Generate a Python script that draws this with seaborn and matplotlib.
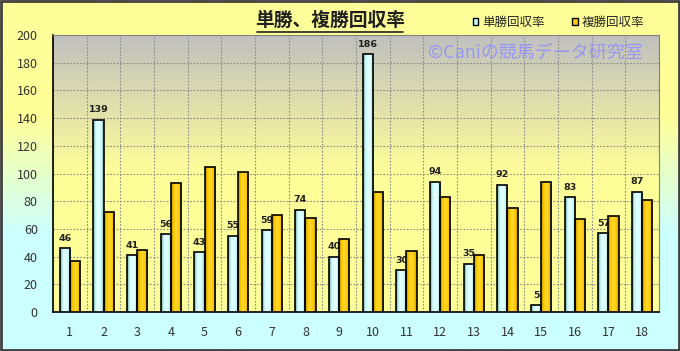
import numpy as np
import pandas as pd
import seaborn as sns
import matplotlib.pyplot as plt
from matplotlib.colors import LinearSegmentedColormap
from matplotlib.lines import Line2D
from matplotlib.patches import Rectangle

sns.set_style("white")
plt.rcParams["font.family"] = ["Noto Sans CJK JP", "DejaVu Sans"]

# data
umaban = [str(i) for i in range(1, 19)]
tansho = [46, 139, 41, 56, 43, 55, 59, 74, 40, 186, 30, 94, 35, 92, 5, 83, 57, 87]
fukusho = [37, 72, 45, 93, 105, 101, 70, 68, 53, 87, 44, 83, 41, 75, 94, 67, 69, 81]
series = ["単勝回収率", "複勝回収率"]

df = pd.DataFrame({
    "馬番": umaban * 2,
    "回収率": tansho + fukusho,
    "種別": [series[0]] * len(umaban) + [series[1]] * len(umaban),
})

fig = plt.figure(figsize=(6.8, 3.51), dpi=100)

# figure background: yellow at top -> light cyan at bottom
bg = fig.add_axes([0, 0, 1, 1], zorder=-10)
bg_cmap = LinearSegmentedColormap.from_list("bg", ["#ccffff", "#ccffff", "#ffff99", "#ffff99"])
bg.imshow(np.linspace(0, 1, 256).reshape(-1, 1), cmap=bg_cmap, aspect="auto",
          extent=[0, 1, 0, 1], origin="lower")
bg.set_axis_off()
bg.add_patch(Rectangle((0.002, 0.003), 0.996, 0.994, transform=bg.transAxes,
                       fill=False, edgecolor="#404040", linewidth=2))

ax = fig.add_axes([0.078, 0.111, 0.891, 0.789])
ax.patch.set_alpha(0)

# plot area gradient: gray top -> light yellow bottom
pa_cmap = LinearSegmentedColormap.from_list("pa", ["#ffff99", "#ffff99", "#c0c0c0"])
ax.imshow(np.linspace(0, 1, 256).reshape(-1, 1), cmap=pa_cmap, aspect="auto",
          extent=[0, 1, 0, 1], origin="lower", transform=ax.transAxes, zorder=0)

sns.barplot(data=df, x="馬番", y="回収率", hue="種別", order=umaban,
            palette=["#ccffff", "#ffcc00"], width=0.6, edgecolor="black",
            linewidth=1.2, saturation=1, ax=ax, zorder=3)

# shade the bars with a horizontal gradient
grad_c = LinearSegmentedColormap.from_list("c", ["#6a9a9a", "#ccffff", "#e8ffff", "#ccffff", "#7aa8a8"])
grad_y = LinearSegmentedColormap.from_list("y", ["#b08800", "#ffcc00", "#ffd633", "#ffcc00", "#c09000"])
for cont, cm in zip(ax.containers, [grad_c, grad_y]):
    for p in cont:
        x0, y0 = p.get_x(), p.get_y()
        w, h = p.get_width(), p.get_height()
        im = ax.imshow(np.linspace(0, 1, 64).reshape(1, -1), cmap=cm, aspect="auto",
                       extent=[x0, x0 + w, y0, y0 + h], zorder=3.5)
        im.set_clip_path(p)
        p.set_facecolor("none")
        p.set_zorder(4)

ax.bar_label(ax.containers[0], fontsize=6.8, fontweight="bold", padding=4,
             color="#202020", family="DejaVu Sans")

ax.set_xlim(-0.5, len(umaban) - 0.5)
ax.set_ylim(0, 200)
ax.set_yticks(range(0, 201, 20))
ax.set_xticks(np.arange(-0.5, len(umaban), 1), minor=True)
ax.grid(axis="y", which="major", linestyle=(0, (1.5, 1.5)), color="#8a8a8a", linewidth=0.8, zorder=1)
ax.grid(axis="x", which="minor", linestyle=(0, (1.5, 1.5)), color="#8a8a8a", linewidth=0.8, zorder=1)
ax.set_axisbelow(True)
ax.tick_params(axis="x", which="major", length=0, labelsize=9, colors="#333333", pad=10)
ax.tick_params(axis="x", which="minor", length=3, color="black")
ax.tick_params(axis="y", length=3, labelsize=9, colors="#333333", pad=8)
ax.set_xlabel("")
ax.set_ylabel("")
for side in ["left", "bottom"]:
    ax.spines[side].set_color("black")
    ax.spines[side].set_linewidth(1.2)
for side in ["top", "right"]:
    ax.spines[side].set_color("#808080")
    ax.spines[side].set_linewidth(0.8)

sns.move_legend(ax, "center left", bbox_to_anchor=(0.695, 0.937),
                bbox_transform=fig.transFigure, ncol=2, frameon=False, title=None,
                fontsize=9, handlelength=0.45, handleheight=0.45, handletextpad=0.3,
                columnspacing=2.2, borderpad=0, borderaxespad=0)
for h in ax.get_legend().legend_handles:
    h.set_edgecolor("black")
    h.set_linewidth(1.0)

fig.text(0.485, 0.943, "単勝、複勝回収率", ha="center", va="center",
         fontsize=13.5, fontweight="bold", color="#202020")
fig.add_artist(Line2D([0.378, 0.593], [0.909, 0.909], color="#202020", linewidth=1.2))

fig.text(0.788, 0.849, "©Caniの競馬データ研究室", ha="center", va="center",
         fontsize=13, color="#9090ff", alpha=0.85, zorder=20)

plt.savefig("out.png", dpi=100)
